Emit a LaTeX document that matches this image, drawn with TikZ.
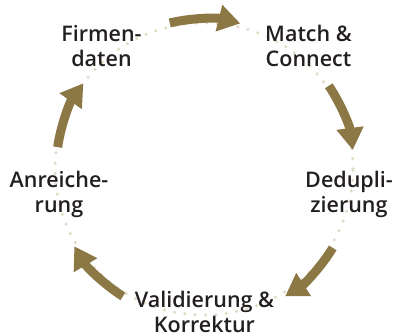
\documentclass[tikz,border=0pt]{standalone}
\usepackage{fontspec}
\IfFontExistsTF{Open Sans Semibold}{\setmainfont{Open Sans Semibold}}{%
  \IfFontExistsTF{OpenSans-Semibold}{\setmainfont{OpenSans-Semibold}}{%
    \IfFontExistsTF{Open Sans SemiBold}{\setmainfont{Open Sans SemiBold}}{%
      \setmainfont{Open Sans}[UprightFont=*-Bold]}}}
\usetikzlibrary{arrows.meta}
\definecolor{gold}{HTML}{8B7844}
\definecolor{dotc}{HTML}{E2DBC8}
\definecolor{txt}{HTML}{231F20}
\begin{document}
\begin{tikzpicture}[x=1pt,y=1pt,
  lab/.style={align=center, font=\fontsize{21.5}{25}\selectfont, text=txt, inner sep=0pt},
  cyc/.style={draw=gold, line width=9pt, -{Triangle[width=26pt,length=22pt]}}]
\useasboundingbox (0,0) rectangle (396,336);
\coordinate (c) at (204,167);
\draw[dotc, line width=3.5pt, line cap=round, dash pattern=on 0pt off 10.4pt] (c) ellipse [x radius=149, y radius=146];
\draw[cyc] (c) ++(103.2:150) arc[start angle=103.2, end angle=76, radius=150];
\draw[cyc] (c) ++(33.7:150) arc[start angle=33.7, end angle=7.3, radius=150];
\draw[cyc] (c) ++(-31.5:151) arc[start angle=-31.5, end angle=-57.5, radius=151];
\draw[cyc] (c) ++(-122.5:151) arc[start angle=-122.5, end angle=-149.2, radius=151];
\draw[cyc] (c) ++(171.5:148) arc[start angle=171.5, end angle=144.6, radius=148];
\node[lab] (firm) at (101.5,290) {Firmen-\\daten};
\node[lab] (match) at (308.5,290) {Match \&\\Connect};
\node[lab] (dedup) at (349,142) {Dedupli-\\zierung};
\node[lab] (valid) at (204.5,24.5) {Validierung \&\\Korrektur};
\node[lab] (anr) at (59,142) {Anreiche-\\rung};
\end{tikzpicture}
\end{document}
